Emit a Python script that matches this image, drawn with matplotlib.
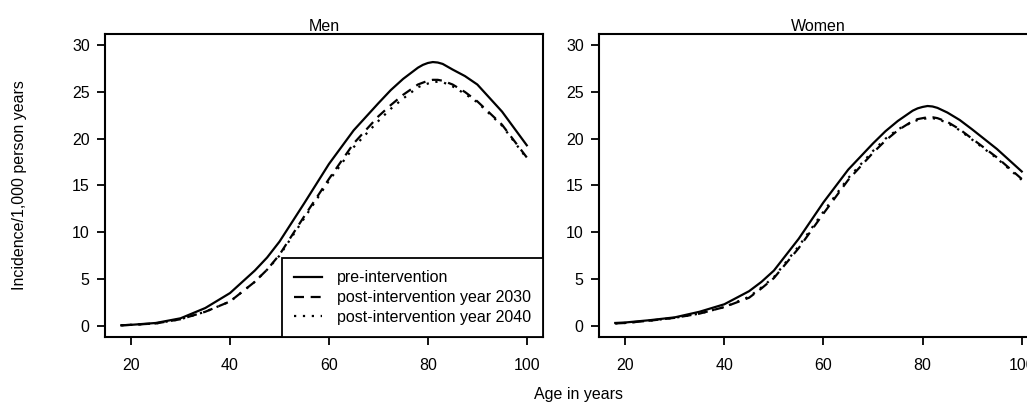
import matplotlib
matplotlib.use("Agg")
import matplotlib.pyplot as plt

plt.rcParams['font.family'] = ['Liberation Sans', 'DejaVu Sans']

age = [18, 20, 25, 30, 35, 40, 45, 47.5, 50, 55, 60, 65, 70, 72.5, 75,
       78, 79, 80, 81, 82, 83, 85, 87.5, 90, 95, 100]

# men, incidence per 1,000 person years
men_pre = [0.05, 0.1, 0.3, 0.8, 1.9, 3.5, 5.9, 7.3, 9.0, 13.1, 17.3, 20.9, 23.8, 25.2, 26.4,
           27.6, 27.9, 28.1, 28.2, 28.15, 28.0, 27.4, 26.7, 25.8, 22.9, 19.3]
men_2030 = [0.05, 0.1, 0.25, 0.7, 1.5, 2.6, 4.7, 6.0, 7.6, 11.7, 15.7, 19.5, 22.4, 23.6, 24.7,
            25.8, 26.0, 26.2, 26.3, 26.3, 26.2, 25.8, 25.0, 24.0, 21.5, 18.0]
men_2040 = [0.05, 0.1, 0.25, 0.7, 1.5, 2.6, 4.7, 6.0, 7.5, 11.5, 15.5, 19.1, 21.9, 23.2, 24.3,
            25.5, 25.75, 25.9, 26.05, 26.1, 26.05, 25.6, 24.8, 23.9, 21.4, 17.9]

# women, incidence per 1,000 person years
women_pre = [0.3, 0.35, 0.6, 0.9, 1.5, 2.3, 3.7, 4.7, 5.9, 9.3, 13.2, 16.7, 19.5, 20.8, 21.9,
             23.0, 23.25, 23.4, 23.5, 23.45, 23.3, 22.8, 22.0, 21.0, 18.9, 16.5]
women_2030 = [0.25, 0.3, 0.55, 0.85, 1.3, 2.0, 3.0, 4.0, 5.1, 8.3, 12.0, 15.6, 18.5, 19.8, 20.9,
              21.9, 22.1, 22.2, 22.3, 22.3, 22.2, 21.8, 21.0, 20.0, 18.0, 15.7]
women_2040 = [0.25, 0.3, 0.55, 0.85, 1.3, 2.0, 3.1, 4.1, 5.2, 8.5, 12.2, 15.8, 18.7, 20.0, 21.0,
              21.8, 22.0, 22.1, 22.2, 22.2, 22.1, 21.7, 20.9, 19.9, 17.9, 15.6]

series_labels = ['pre-intervention', 'post-intervention year 2030', 'post-intervention year 2040']
x_ticks = [20, 40, 60, 80, 100]
y_ticks = [0, 5, 10, 15, 20, 25, 30]

W, H = 1027, 403
FS = 11.5


def draw_panel(ax, title, pre, y2030, y2040):
    """One panel, R base-graphics look"""
    kw = dict(color='black', lw=1.6, solid_joinstyle='round', dash_joinstyle='round')
    ax.plot(age, pre, ls='-', label=series_labels[0], **kw)
    ax.plot(age, y2030, ls=(0, (4.5, 3)), label=series_labels[1], **kw)
    ax.plot(age, y2040, ls=(0, (1, 3)), label=series_labels[2], **kw)

    # R's default 4% padding on both axes
    ax.set_xlim(18 - 0.04 * 82, 100 + 0.04 * 82)
    ax.set_ylim(-1.2, 31.2)
    ax.set_xticks(x_ticks)
    ax.set_yticks(y_ticks)
    ax.tick_params(direction='out', length=6, width=1.3, labelsize=FS)
    ax.tick_params(axis='x', pad=9)
    ax.tick_params(axis='y', pad=5)
    for sp in ax.spines.values():
        sp.set_linewidth(1.5)
    ax.set_title(title, fontsize=FS, pad=2.5)


def main():
    fig = plt.figure(figsize=(W / 100, H / 100), dpi=100)

    ax1 = fig.add_axes([105 / W, 1 - 337 / H, 438 / W, 303 / H])
    ax2 = fig.add_axes([599 / W, 1 - 337 / H, 439 / W, 303 / H])

    draw_panel(ax1, 'Men', men_pre, men_2030, men_2040)
    draw_panel(ax2, 'Women', women_pre, women_2030, women_2040)

    leg = ax1.legend(loc='lower right', borderaxespad=0, fancybox=False,
                     edgecolor='black', framealpha=1, fontsize=FS,
                     handlelength=1.75, handletextpad=0.95, labelspacing=0.3,
                     borderpad=0.75)
    leg.get_frame().set_linewidth(1.3)

    fig.text(20 / W, 1 - 185 / H, 'Incidence/1,000 person years',
             rotation=90, ha='center', va='center', fontsize=FS)
    fig.text(578 / W, 1 - 395 / H, 'Age in years',
             ha='center', va='center', fontsize=FS)

    fig.savefig('out.png', dpi=100)


if __name__ == "__main__":
    main()
